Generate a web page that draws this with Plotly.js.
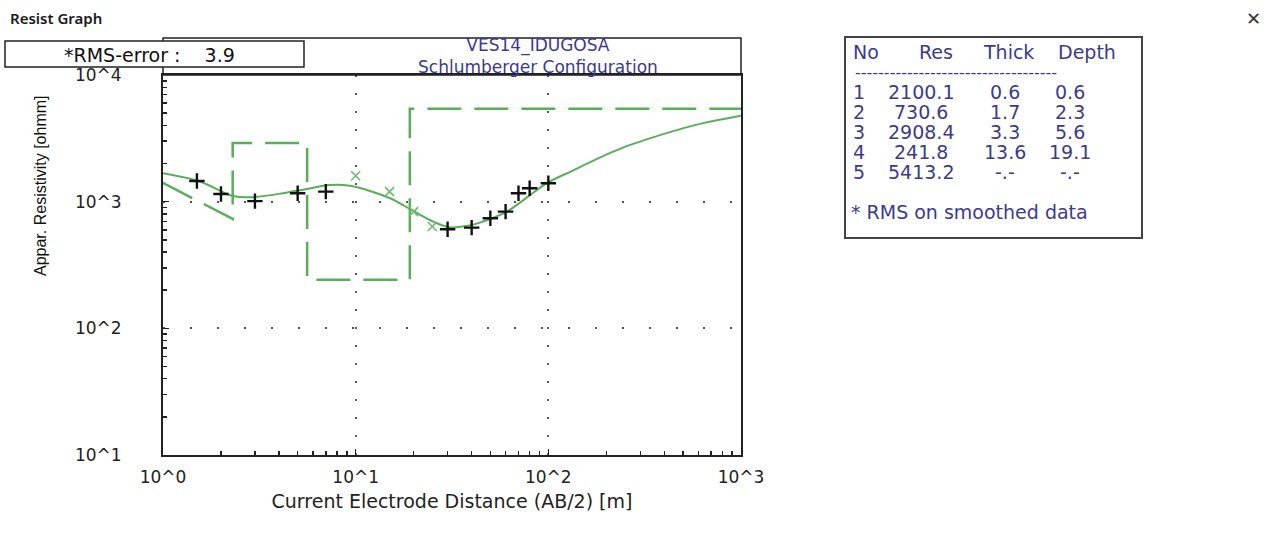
<!DOCTYPE html>
<html>
<head>
<meta charset="utf-8">
<script src="https://cdn.plot.ly/plotly-3.0.1.min.js"></script>
<style>
html,body{margin:0;padding:0;background:#fff;}
#chart{width:1273px;height:552px;}
</style>
</head>
<body>
<div id="chart"></div>
<script>
// ---- data ----
const abHalf = [1.5, 2, 3, 5, 7, 30, 40, 50, 60, 70, 80, 100];
const rhoObserved = [1457, 1150, 1010, 1165, 1200, 606, 624, 740, 834, 1165, 1276, 1397];

const abHalfSmoothed = [10, 15, 20, 25];
const rhoSmoothed = [1603, 1199, 834, 637];

const curveAB = [1, 1.56, 2.31, 2.83, 4.2, 5.57, 7.36, 9.34, 11.4, 15.1, 19.8, 25.3, 30.8, 37.7, 45, 60.8, 98, 134, 180, 240, 330, 450, 620, 1000];
const curveRho = [1675, 1438, 1109, 1083, 1165, 1259, 1355, 1337, 1237, 1064, 849, 695, 628, 643, 690, 834, 1397, 1760, 2190, 2650, 3130, 3620, 4130, 4764];

const layerNo = [1, 2, 3, 4, 5];
const layerRes = [2100.1, 730.6, 2908.4, 241.8, 5413.2];
const layerThickText = ['0.6', '1.7', '3.3', '13.6', '-.-'];
const layerDepthText = ['0.6', '2.3', '5.6', '19.1', '-.-'];
const layerDepth = [0.6, 2.3, 5.6, 19.1];
const xMax = 1000;

const xTickVals = [1, 10, 100, 1000];
const xTickText = ['10^0', '10^1', '10^2', '10^3'];
const yTickVals = [10, 100, 1000, 10000];
const yTickText = ['10^1', '10^2', '10^3', '10^4'];

const rmsError = 3.9;
const stationName = 'VES14_IDUGOSA';
const configName = 'Schlumberger Configuration';

// ---- model step line from the layer table ----
const modelX = [layerDepth[0]];
const modelY = [layerRes[0]];
for (let i = 1; i < layerDepth.length; i++) {
  modelX.push(layerDepth[i]); modelY.push(layerRes[i]);
  modelX.push(layerDepth[i]); modelY.push(layerRes[i + 1]);
}
modelX.push(xMax); modelY.push(layerRes[layerRes.length - 1]);

// minor log ticks (2..9 in each decade)
function minorLogTicks(decades) {
  const out = [];
  for (let d = 0; d < decades.length - 1; d++) {
    for (let k = 2; k <= 9; k++) out.push(decades[d] * k);
  }
  return out;
}

// ---- pixel -> paper helpers for frame decorations ----
const L = 163, R = 741, T = 75, B = 455;
const W = R - L, H = B - T;
const fx = px => (px - L) / W;
const fy = py => (B - py) / H;

const green = '#5aae5a';
const navy = '#3b3a92';
const mainFont = 'DejaVu Sans, Liberation Sans, sans-serif';

const traces = [
  {
    x: modelX, y: modelY, type: 'scatter', mode: 'lines',
    line: {color: green, width: 2.5, dash: '34px,13px'},
    hoverinfo: 'skip', showlegend: false
  },
  {
    x: curveAB, y: curveRho, type: 'scatter', mode: 'lines',
    line: {color: green, width: 2, shape: 'spline', smoothing: 1},
    showlegend: false
  },
  {
    x: abHalfSmoothed, y: rhoSmoothed, type: 'scatter', mode: 'markers',
    marker: {symbol: 'x-thin', size: 9, color: '#6dbb6d', line: {color: '#6dbb6d', width: 1.6}},
    showlegend: false
  },
  {
    x: abHalf, y: rhoObserved, type: 'scatter', mode: 'markers',
    marker: {symbol: 'cross-thin', size: 11, color: '#111', line: {color: '#111', width: 2.4}},
    showlegend: false
  },
  // invisible carrier for the minor-tick overlay axes
  {
    x: [xTickVals[0]], y: [yTickVals[0]], xaxis: 'x2', yaxis: 'y2', type: 'scatter', mode: 'markers',
    marker: {opacity: 0}, hoverinfo: 'skip', showlegend: false
  }
];

const annotations = [];
function addText(text, px, py, opts) {
  annotations.push(Object.assign({
    text: text, xref: 'paper', yref: 'paper', x: fx(px), y: fy(py),
    xanchor: 'center', yanchor: 'middle', showarrow: false,
    font: {family: mainFont, size: 17, color: navy}
  }, opts || {}));
}

addText('Resist Graph', 8, 18, {xanchor: 'left', font: {family: 'Noto Sans, Open Sans, sans-serif', size: 15, color: '#1a1a1a', weight: 600}});
addText('\u2715', 1253, 18, {font: {family: 'DejaVu Sans', size: 18, color: '#333'}});
addText('*RMS-error :\u00a0\u00a0\u00a0\u00a0' + rmsError.toFixed(1), 62, 55, {xanchor: 'left', font: {family: mainFont, size: 19, color: '#111'}});
addText(stationName + '<br>' + configName, 538, 56.5, {font: {family: mainFont, size: 17, color: navy}});
addText('Appar. Resistivity [ohmm]', 40, 185, {textangle: -90, font: {family: 'Liberation Sans, Arial, sans-serif', size: 16, color: '#111'}});

// table
const colNo = 859, colRes = 921, colThick = 1005, colDepth = 1070;
const tFont = {family: mainFont, size: 19, color: navy};
addText('No', 866, 52, {font: tFont});
addText('Res', 936, 52, {font: tFont});
addText('Thick', 1008, 52, {font: tFont});
addText('Depth', 1087, 52, {font: tFont});
addText('-'.repeat(35), 853, 72, {xanchor: 'left', font: {family: mainFont, size: 16, color: navy}});
for (let i = 0; i < layerNo.length; i++) {
  const py = 92 + i * 20;
  addText(String(layerNo[i]), colNo, py, {font: tFont});
  addText(layerRes[i].toFixed(1), colRes, py, {font: tFont});
  addText(layerThickText[i], colThick, py, {font: tFont});
  addText(layerDepthText[i], colDepth, py, {font: tFont});
}
addText('* RMS on smoothed data', 849, 212, {xanchor: 'left', font: tFont});

const shapes = [
  // title box above plot
  {type: 'rect', xref: 'paper', yref: 'paper', x0: 0, x1: 1, y0: 1, y1: fy(38),
   line: {color: '#222', width: 1.5}, fillcolor: 'rgba(0,0,0,0)'},
  // RMS box (drawn over the title box edge)
  {type: 'rect', xref: 'paper', yref: 'paper', x0: fx(5), x1: fx(304), y0: fy(67), y1: fy(41),
   line: {color: '#222', width: 1.5}, fillcolor: '#fff', layer: 'above'},
  // result table box
  {type: 'rect', xref: 'paper', yref: 'paper', x0: fx(845), x1: fx(1142), y0: fy(238), y1: fy(37),
   line: {color: '#444', width: 2}, fillcolor: 'rgba(0,0,0,0)'}
];

const axisCommon = {
  type: 'log', showline: true, mirror: true, linecolor: '#222', linewidth: 2,
  ticks: 'inside', ticklen: 6, tickwidth: 1.5, tickcolor: '#222',
  tickmode: 'array', zeroline: false,
  tickfont: {family: mainFont, size: 17, color: '#222'},
  showgrid: true, gridcolor: '#555', gridwidth: 2
};

const minorAxis = {
  type: 'log', tickmode: 'array', ticks: 'inside', ticklen: 4, tickwidth: 1.5, tickcolor: '#222',
  showticklabels: false, showgrid: false, showline: false, zeroline: false
};

const layout = {
  width: 1273, height: 552,
  margin: {l: L, r: 1273 - R, t: T, b: 552 - B, pad: 0},
  paper_bgcolor: '#fff', plot_bgcolor: '#fff',
  showlegend: false,
  xaxis: Object.assign({}, axisCommon, {
    range: [0, 3], tickvals: xTickVals, ticktext: xTickText,
    griddash: '2px,16px', ticklabelstandoff: 6,
    title: {text: 'Current Electrode Distance (AB/2) [m]', font: {family: mainFont, size: 19, color: '#222'}, standoff: 8}
  }),
  yaxis: Object.assign({}, axisCommon, {
    range: [1, 4], tickvals: yTickVals, ticktext: yTickText,
    griddash: '2px,25px', ticklabelstandoff: 36
  }),
  xaxis2: Object.assign({}, minorAxis, {overlaying: 'x', anchor: 'y2', side: 'bottom', range: [0, 3], tickvals: minorLogTicks(xTickVals)}),
  yaxis2: Object.assign({}, minorAxis, {overlaying: 'y', anchor: 'x2', side: 'left', range: [1, 4], tickvals: minorLogTicks(yTickVals)}),
  shapes: shapes,
  annotations: annotations
};

Plotly.newPlot('chart', traces, layout, {displayModeBar: false, staticPlot: true});
</script>
</body>
</html>
